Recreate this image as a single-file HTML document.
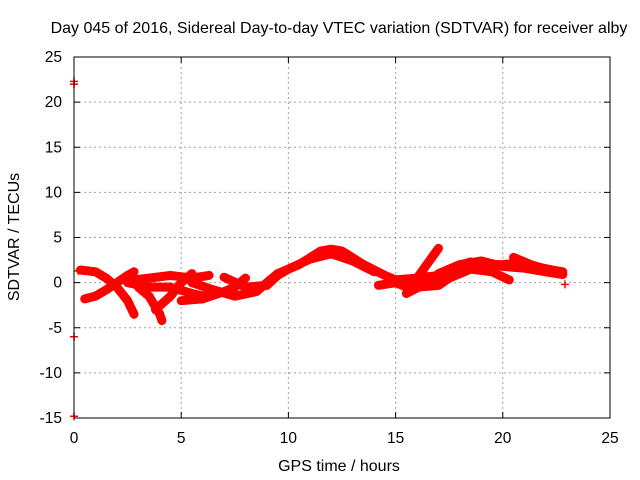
<!DOCTYPE html>
<html><head><meta charset="utf-8"><style>
body{margin:0;background:#fff;}
svg{display:block;font-family:"Liberation Sans",sans-serif;}
</style></head><body>
<svg id="chart" width="640" height="480">
<text x="339" y="33" text-anchor="middle" font-size="16">Day 045 of 2016, Sidereal Day-to-day VTEC variation (SDTVAR) for receiver alby</text>
<text x="339" y="471" text-anchor="middle" font-size="16">GPS time / hours</text>
<text transform="translate(19,237) rotate(-90)" text-anchor="middle" font-size="16">SDTVAR / TECUs</text>
<g id="grid"></g><g id="marks"></g><g id="axes"></g>
</svg>
<script>
const xTicks=[0,5,10,15,20,25];
const yTicks=[-15,-10,-5,0,5,10,15,20,25];
const trackA=[[0.3,1.4],[1,1.2],[1.5,0.5],[2,-0.5],[2.5,-2],[2.8,-3.5]];
const trackB=[[0.5,-1.8],[1,-1.5],[1.5,-0.8],[2,0],[2.5,0.8],[2.8,1.2]];
const trackC=[[2.8,0.3],[3.5,0.5],[4.5,0.8],[5.5,0.5],[6.3,0.8]];
const trackD=[[3,-0.5],[3.5,-1.5],[4,-3.5],[4.1,-4.2]];
const trackD2=[[3.8,-3],[4.5,-1.5],[5,0],[5.5,1]];
const trackE=[[2.5,0],[3.5,-0.5],[4.5,-0.5],[5.5,-1.2],[6,-1.5],[6.5,-1]];
const trackF=[[5,-2],[6,-1.8],[7,-1],[7.5,-0.5],[8,0.5]];
const trackG=[[5.5,0],[6.5,-0.8],[7.5,-1.5],[8.5,-1],[9,0],[9.5,1],[10.5,2],[11.5,3.5],[12,3.7],[12.5,3.5],[13.5,2],[14.5,0.8],[15,0.3],[16,0.5],[17,0.8],[18,1.5],[19,2],[20,2],[21,2.2],[22,1.5],[22.8,1.2]];
const trackG2=[[7,0.6],[8,-0.5],[9,-0.3],[9.5,0.8],[10,1.5],[11,2.6],[12,3.2],[13,2.4],[14,1.2]];
const trackH=[[14.2,-0.3],[15,0],[15.5,-0.5],[16,0.5],[17,3.8]];
const trackI=[[15.5,-1.2],[16.5,0],[17.5,1.5],[18.5,2.3]];
const trackJ=[[16,-0.5],[17,-0.3],[17.5,0.5],[18.5,1.5],[19.5,1.2],[20.3,0.3]];
const trackK=[[20.5,2.8],[21.5,1.8],[22.5,1.3]];
const trackL=[[17,1],[18,2],[19,2.4],[20,1.8],[21,1.6],[22,1.2],[22.8,0.9]];
const outliers=[[0,22.3],[0,22],[0,-6],[0,-14.8],[22.9,-0.2],[0.2,1.3]];
const tracks=[trackA,trackB,trackC,trackD,trackD2,trackE,trackF,trackG,trackG2,trackH,trackI,trackJ,trackK,trackL];

const X0=74,X1=610,Y0=418,Y1=57;
const sx=v=>X0+(v-0)/25*(X1-X0);
const sy=v=>Y0-(v+15)/40*(Y0-Y1);
const NS="http://www.w3.org/2000/svg";
function mk(tag,attrs,parent){const e=document.createElementNS(NS,tag);for(const k in attrs)e.setAttribute(k,attrs[k]);parent.appendChild(e);return e;}
const grid=document.getElementById('grid'),marks=document.getElementById('marks'),axes=document.getElementById('axes');
xTicks.forEach(t=>{
  const x=sx(t);
  if(t>0&&t<25){const g=mk('line',{x1:x,x2:x,y1:Y1,y2:Y0,stroke:'#a0a0a0','stroke-dasharray':'2,3'},grid);
  
  }
  mk('line',{x1:x,x2:x,y1:Y0,y2:Y0-6,stroke:'#000'},axes);
  mk('line',{x1:x,x2:x,y1:Y1,y2:Y1+6,stroke:'#000'},axes);
  const l=mk('text',{x:x,y:Y0+25,'text-anchor':'middle','font-size':15.5},axes);l.textContent=t;
  
  
});
yTicks.forEach(t=>{
  const y=sy(t);
  if(t>-15&&t<25){const g=mk('line',{x1:X0,x2:X1,y1:y,y2:y,stroke:'#a0a0a0','stroke-dasharray':'2,3'},grid);
  
  }
  mk('line',{x1:X0,x2:X0+6,y1:y,y2:y,stroke:'#000'},axes);
  mk('line',{x1:X1,x2:X1-6,y1:y,y2:y,stroke:'#000'},axes);
  const l=mk('text',{x:X0-12,y:y+5,'text-anchor':'end','font-size':15.5},axes);l.textContent=t;
  
  
});
const fr=mk('rect',{x:X0,y:Y1,width:X1-X0,height:Y0-Y1,fill:'none',stroke:'#000'},axes);


tracks.forEach(tr=>{
  const p=mk('polyline',{points:tr.map(d=>sx(d[0])+','+sy(d[1])).join(' '),fill:'none',stroke:'#ff0000','stroke-width':9,'stroke-linejoin':'round','stroke-linecap':'round'},marks);
  
  
});
outliers.forEach(d=>{
  const x=sx(d[0]),y=sy(d[1]);
  const p=mk('path',{d:`M${x-4},${y}H${x+4}M${x},${y-4}V${y+4}`,stroke:'#ff0000','stroke-width':1.5},marks);
  
  
});
</script>
</body></html>
